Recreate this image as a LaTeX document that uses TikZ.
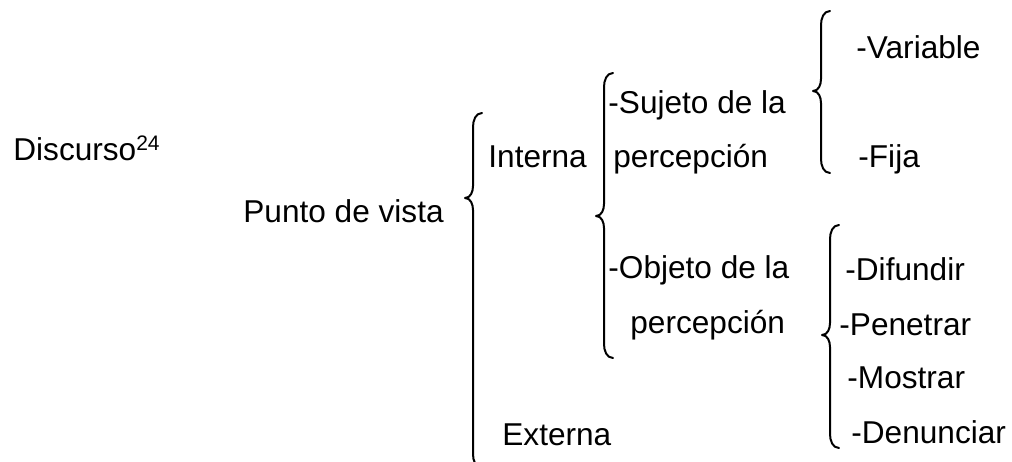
\documentclass[tikz,border=0pt]{standalone}
\usepackage{fontspec}
\setmainfont{Liberation Sans}
\usepackage{tikz}
\usetikzlibrary{positioning, calc}

\tikzset{
  txt/.style={anchor=base west, inner sep=0pt, font=\fontsize{15.8}{18}\selectfont},
  bracestroke/.style={line width=1pt, line cap=round, line join=round}
}

% curly brace: #1 = x of the stem, #2 = top, #3 = tip, #4 = bottom (pixels)
\newcommand{\llave}[4]{%
  \draw[bracestroke] ({#1+9},{#2}) to[out=180,in=90] ({#1},{#2+14})
    -- ({#1},{#3-12}) to[out=-90,in=0] ({#1-8},{#3})
    to[out=0,in=90] ({#1},{#3+12})
    -- ({#1},{#4-14}) to[out=-90,in=180] ({#1+9},{#4});}

\begin{document}
\begin{tikzpicture}[x=0.5pt, y=-0.5pt]

\useasboundingbox (0,0) rectangle (1012,461);
\clip (0,0) rectangle (1012,461);

% Level 0 and 1
\node[txt] (discurso) at (13,160) {Discurso{\fontsize{10.5}{12}\selectfont\raisebox{5pt}{24}}};
\node[txt] (punto) at (243,222) {Punto de vista};

% Level 2
\node[txt] (interna) at (488,167) {Interna};
\node[txt] (externa) at (502,445) {Externa};

% Level 3
\node[txt] (sujeto) at (608,113) {-Sujeto de la};
\node[txt] (percepA) at (613,167) {percepci\'on};
\node[txt] (objeto) at (608,278) {-Objeto de la};
\node[txt] (percepB) at (630,333) {percepci\'on};

% Level 4
\node[txt] (variable) at (856,58) {-Variable};
\node[txt] (fija) at (858,167) {-Fija};
\node[txt] (difundir) at (845,280) {-Difundir};
\node[txt] (penetrar) at (839,335) {-Penetrar};
\node[txt] (mostrar) at (847,388) {-Mostrar};
\node[txt] (denunciar) at (851,443) {-Denunciar};

% Braces
\llave{473}{113}{198}{468}
\llave{604}{73}{216}{358}
\llave{821}{11}{91}{173}
\llave{830}{225}{335}{448}

\end{tikzpicture}
\end{document}
